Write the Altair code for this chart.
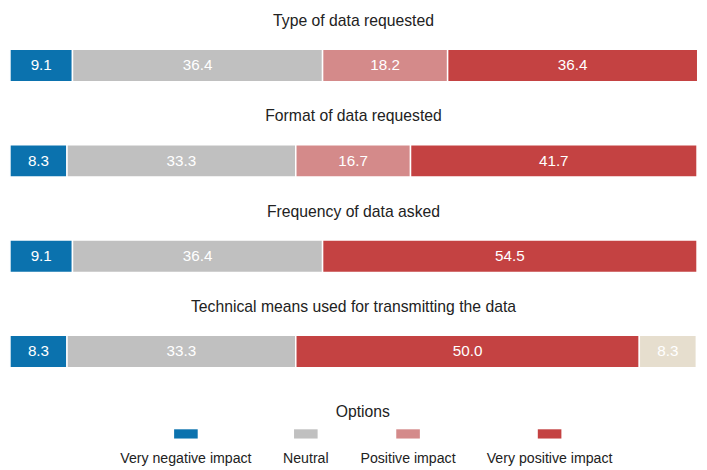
import altair as alt
import pandas as pd

questions = [
    "Type of data requested",
    "Format of data requested",
    "Frequency of data asked",
    "Technical means used for transmitting the data",
]
options = ["Very negative impact", "Neutral", "Positive impact", "Very positive impact", "Not applicable"]
colors = ["#0b72ae", "#c0c0c0", "#d48a8a", "#c44242", "#e6dece"]
legend_title = ["Options"]

values = {
    "Type of data requested": [9.1, 36.4, 18.2, 36.4, 0.0],
    "Format of data requested": [8.3, 33.3, 16.7, 41.7, 0.0],
    "Frequency of data asked": [9.1, 36.4, 0.0, 54.5, 0.0],
    "Technical means used for transmitting the data": [8.3, 33.3, 0.0, 50.0, 8.3],
}

rows = []
for q in questions:
    for i, (o, v) in enumerate(zip(options, values[q])):
        if v > 0:
            rows.append({"question": q, "option": o, "value": v, "order": i})
df = pd.DataFrame(rows)

FONT = "Liberation Sans"
legend_opts = options[:4]

# custom symbol path: rectangle drawn above the (centred) label
sym_path = "M-0.2,-3.02L2.2,-3.02L2.2,-2.08L-0.2,-2.08Z"

color = alt.Color(
    "option:N",
    scale=alt.Scale(domain=options, range=colors),
    legend=alt.Legend(
        values=legend_opts,
        title=None,
        orient="none",
        legendX=159,
        legendY=406.5,
        direction="horizontal",
        labelFont=FONT,
        labelFontSize=14.4,
        labelColor="#222222",
        labelAlign="center",
        labelOffset=0,
        symbolType=sym_path,
        symbolSize=400,
        symbolStrokeWidth=0,
        symbolOpacity=1,
        columnPadding=31,
        labelLimit=300,
    ),
)


def panel(q):
    base = alt.Chart(df).transform_filter(
        alt.datum.question == q
    ).transform_window(
        cum="sum(value)", groupby=["question"], sort=[alt.SortField("order")], frame=[None, 0]
    ).transform_calculate(
        start="datum.cum - datum.value", mid="datum.cum - datum.value / 2"
    )
    xs = alt.Scale(domain=[0, 100], nice=False, zero=True)
    ys = alt.Y("question:N", axis=None, scale=alt.Scale(paddingInner=0, paddingOuter=0))
    bars = base.mark_bar(stroke="white", strokeWidth=1.5, opacity=1).encode(
        x=alt.X("start:Q", scale=xs, axis=None),
        x2="cum:Q",
        y=ys,
        color=color,
    )
    text = base.mark_text(color="white", font=FONT, fontSize=15.5).encode(
        x=alt.X("mid:Q", scale=xs, axis=None),
        y=ys,
        text=alt.Text("value:Q", format=".1f"),
    )
    return alt.layer(bars, text).properties(
        width=699,
        height=33,
        title=alt.Title(q, font=FONT, fontSize=16, fontWeight="normal", color="#222222", anchor="middle", offset=20),
    )


legend_head = alt.Chart(pd.DataFrame({"t": legend_title})).mark_text(
    font=FONT, fontSize=16, color="#222222", dx=9.5
).encode(text="t:N").properties(width=699, height=37)

chart = alt.vconcat(*[panel(q) for q in questions], legend_head, spacing=26).properties(
    padding={"left": 1, "right": 0, "top": 1, "bottom": 0}
).configure_view(stroke=None)

chart.save("out.html", embed_options={"renderer": "svg", "actions": False})
